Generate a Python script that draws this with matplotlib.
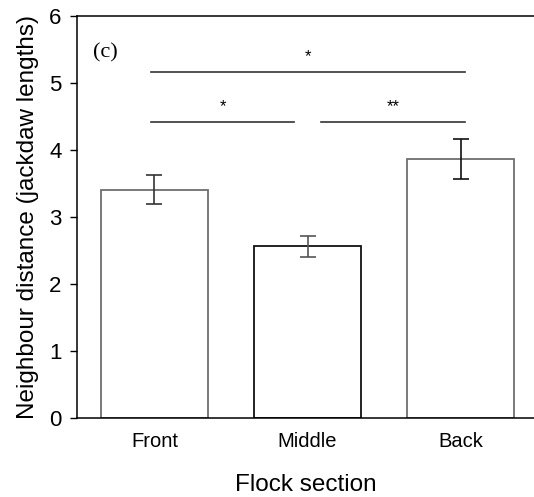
import matplotlib
matplotlib.use("Agg")
import matplotlib.pyplot as plt

plt.rcParams["font.family"] = ["Liberation Sans", "DejaVu Sans"]

sections = ["Front", "Middle", "Back"]
means = [3.40, 2.56, 3.87]
err_low = [3.19, 2.40, 3.56]
err_high = [3.62, 2.72, 4.17]

# significance brackets: (x start, x end, y, label)
sig_x0 = [-0.02, -0.02, 1.09]
sig_x1 = [2.03, 0.91, 2.03]
sig_y = [5.16, 4.41, 4.41]
sig_labels = ["*", "*", "**"]

x = list(range(len(sections)))
yerr = [[m - lo for m, lo in zip(means, err_low)],
        [hi - m for m, hi in zip(means, err_high)]]

fig = plt.figure(figsize=(5.34, 4.97), dpi=100)
ax = fig.add_axes([0.144, 0.159, 0.856, 0.809])

edge_cols = ["#6e6e6e", "#111111", "#6e6e6e"]
ax.bar(x, means, width=0.7, color="white", edgecolor=edge_cols, linewidth=1.3)
for xi, m, lo, hi, ec in zip(x, means, yerr[0], yerr[1], ["#333333", "#555555", "#111111"]):
    ax.errorbar(xi, m, yerr=[[lo], [hi]], fmt="none", ecolor=ec,
                elinewidth=1.2, capsize=5.5, capthick=1.2)

for x0, x1, y, lab in zip(sig_x0, sig_x1, sig_y, sig_labels):
    ax.plot([x0, x1], [y, y], color="#333333", linewidth=1.2)
    ax.text((x0 + x1) / 2, y + 0.12, lab, ha="center", va="bottom", fontsize=12)

ax.text(-0.40, 5.45, "(c)", family=["Liberation Serif"], fontsize=16,
        ha="left", va="center")

ax.set_xlim(-0.507, 2.48)
ax.set_ylim(0, 6)
ax.set_yticks(range(7))
ax.set_xticks(x)
ax.set_xticklabels(sections, fontsize=14.5)
ax.tick_params(axis="y", labelsize=16, length=5, width=1, pad=6, direction="out")
ax.tick_params(axis="x", length=0, pad=10)

ax.spines["right"].set_visible(False)
for s in ["left", "top", "bottom"]:
    ax.spines[s].set_linewidth(1.1)

ax.set_xlabel("Flock section", fontsize=17.5, labelpad=17)
ax.set_ylabel("Neighbour distance (jackdaw lengths)", fontsize=17.5, labelpad=7)

fig.savefig("out.png", dpi=100)
